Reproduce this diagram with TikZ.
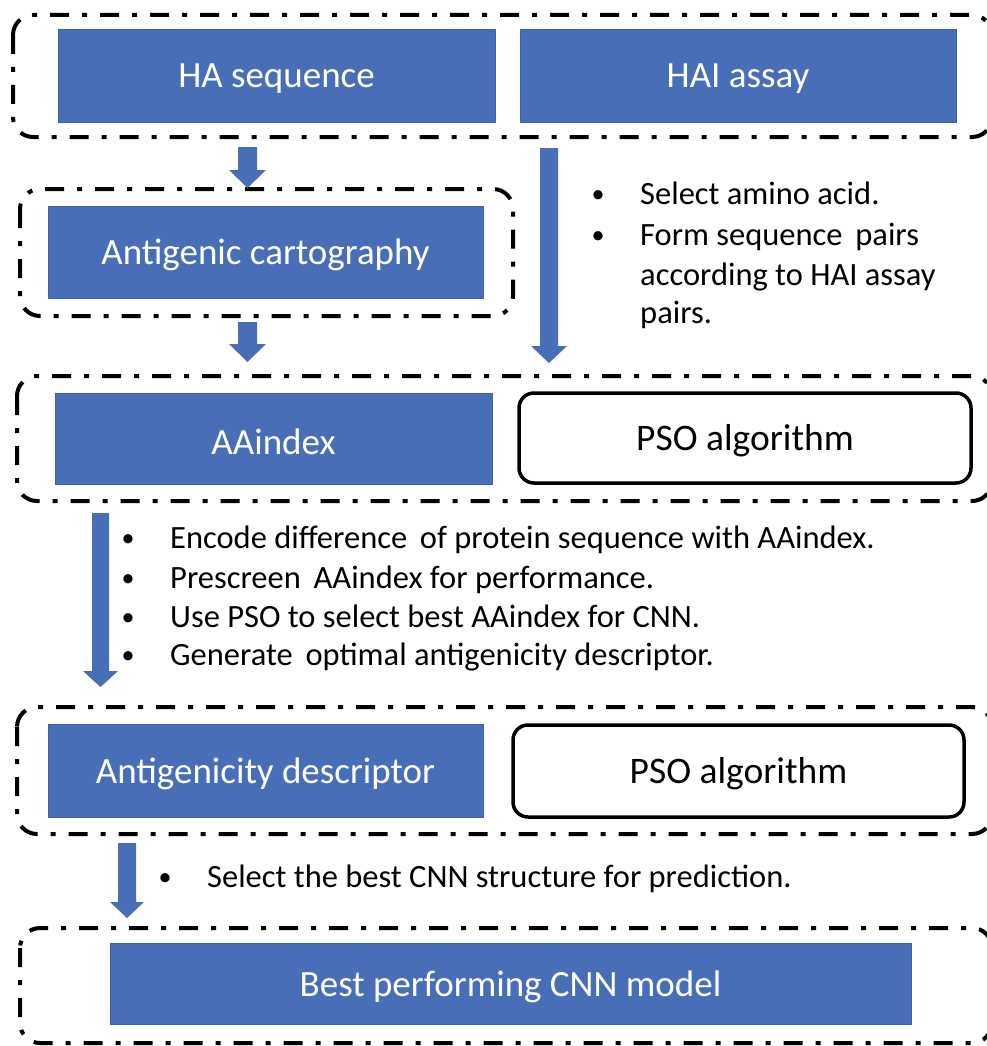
\documentclass[tikz,border=0pt]{standalone}
\usepackage{fontspec}
\setmainfont{Carlito}
\definecolor{boxblue}{RGB}{72,110,184}
\definecolor{boxedge}{RGB}{62,98,170}
\definecolor{arrowblue}{RGB}{72,110,184}
\tikzset{
  frame/.style={draw=black, line width=4pt, rounded corners=20pt,
    dash pattern=on 19pt off 13pt on 5pt off 13pt},
  bluebox/.style={fill=boxblue, draw=boxedge, line width=0.8pt, text=white,
    inner sep=0pt, font=\fontsize{37}{41}\selectfont},
  psobox/.style={fill=white, draw=black, line width=3.5pt, rounded corners=15pt,
    text=black, inner sep=0pt, font=\fontsize{37.5}{41}\selectfont},
  bulletdot/.style={anchor=base, inner sep=0pt, font=\fontsize{26}{30}\selectfont},
  bullettext/.style={anchor=base west, inner sep=0pt, font=\fontsize{32.5}{36}\selectfont},
}
% box label set a little below the geometric centre
\newcommand{\lowlabel}[1]{\raisebox{-3pt}[\height][\depth]{#1}}
% block arrow pointing down: centre x, top y, tip y, shaft half width, head half width, head length
\newcommand{\fatdownarrow}[6]{%
  \fill[arrowblue] (#1-#4,#2) -- (#1+#4,#2) -- (#1+#4,#3-#6) -- (#1+#5,#3-#6)
    -- (#1,#3) -- (#1-#5,#3-#6) -- (#1-#4,#3-#6) -- cycle;}
\begin{document}
\begin{tikzpicture}[x=1pt,y=-1pt]
  \clip (0,0) rectangle (987,1046);
  \fill[white] (0,0) rectangle (987,1046);

  % group frames
  \draw[frame] (13,15) rectangle (992,137);
  \draw[frame] (20,189) rectangle (513,316);
  \draw[frame] (17,376) rectangle (992,501);
  \draw[frame] (17,707) rectangle (992,834);
  \draw[frame] (20,928) rectangle (992,1043);

  % process boxes
  \node[bluebox, minimum width=437, minimum height=93] (ha) at (276.5,75.5) {\lowlabel{HA sequence}};
  \node[bluebox, minimum width=436, minimum height=93] (hai) at (738,75.5) {\lowlabel{HAI assay}};
  \node[bluebox, minimum width=435, minimum height=92] (cart) at (265.5,252) {\lowlabel{Antigenic cartography}};
  \node[bluebox, minimum width=437, minimum height=91] (aaindex) at (273.5,438.5) {\lowlabel{AAindex}};
  \node[psobox, minimum width=452, minimum height=90] (pso1) at (745,438) {\lowlabel{PSO algorithm}};
  \node[bluebox, minimum width=435, minimum height=93] (desc) at (265.5,770.5) {\lowlabel{Antigenicity descriptor}};
  \node[psobox, minimum width=451, minimum height=92] (pso2) at (738.5,771) {\lowlabel{PSO algorithm}};
  \node[bluebox, minimum width=801, minimum height=81] (cnn) at (510.5,983.5) {\lowlabel{Best performing CNN model}};

  % flow arrows
  \fatdownarrow{247.5}{147}{188}{9.5}{18.5}{18}
  \fatdownarrow{247.5}{322}{362}{9.5}{18.5}{18}
  \fatdownarrow{549}{148}{363}{9}{18}{17}
  \fatdownarrow{100.5}{513}{687}{8.5}{17.5}{16}
  \fatdownarrow{127}{843}{918}{9}{17}{16}

  % notes beside the HAI arrow
  \node[bulletdot] (b1) at (598,202) {•};
  \node[bullettext] (t1) at (640,204) {Select amino acid.};
  \node[bulletdot] (b2) at (598,243) {•};
  \node[bullettext] (t2) at (640,245) {Form sequence\, pairs};
  \node[bullettext] (t2b) at (640,285) {according to HAI assay};
  \node[bullettext] (t2c) at (640,323) {pairs.};

  % notes beside the encoding arrow
  \node[bulletdot] (b3) at (128,546) {•};
  \node[bullettext] (t3) at (170,548) {Encode difference\, of protein sequence with AAindex.};
  \node[bulletdot] (b4) at (128,586) {•};
  \node[bullettext] (t4) at (170,588) {Prescreen\, AAindex for performance.};
  \node[bulletdot] (b5) at (128,625) {•};
  \node[bullettext] (t5) at (170,627) {Use PSO to select best AAindex for CNN.};
  \node[bulletdot] (b6) at (128,663) {•};
  \node[bullettext] (t6) at (170,665) {Generate\, optimal antigenicity descriptor.};

  % note beside the model-selection arrow
  \node[bulletdot] (b7) at (165,885) {•};
  \node[bullettext] (t7) at (207,887) {Select the best CNN structure for prediction.};
\end{tikzpicture}
\end{document}
